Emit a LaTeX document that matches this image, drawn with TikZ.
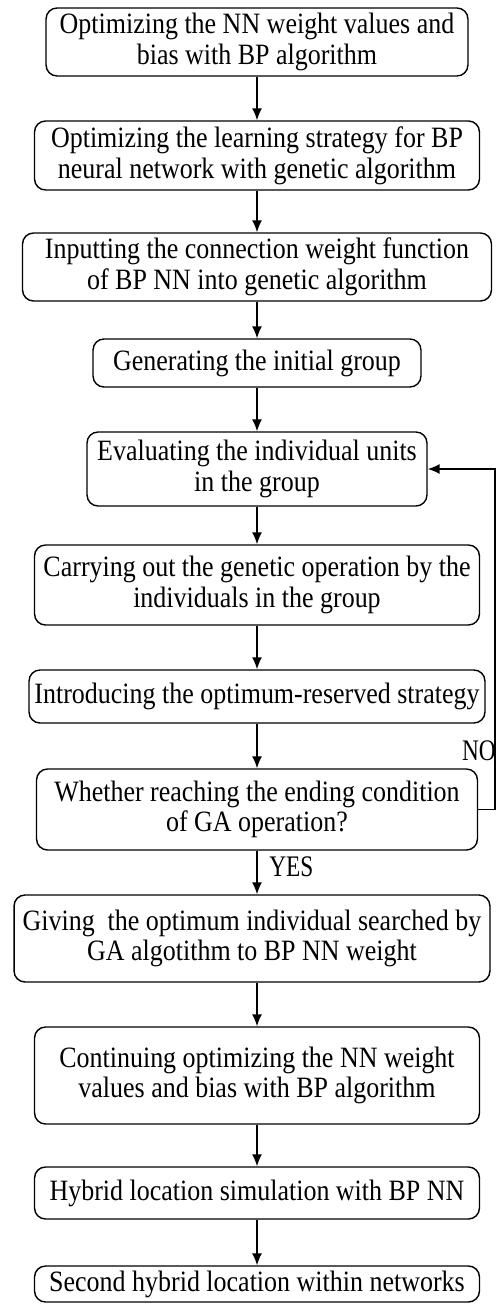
\documentclass[tikz,border=0pt]{standalone}
\usepackage{fontspec}
\setmainfont{Liberation Serif}[FakeStretch=0.88]
\newfontfamily\lblfont{Liberation Serif}[FakeStretch=0.78]
\usetikzlibrary{arrows.meta,positioning,calc}

\begin{document}
\begin{tikzpicture}[x=0.02cm, y=-0.02cm,
		box/.style={draw, rounded corners=0.22cm, line width=0.8pt, align=center, inner sep=0pt, font=\fontsize{16.8}{17.5}\selectfont},
		arr/.style={-{Latex[length=0.24cm,width=0.2cm]}, line width=0.8pt},
		lbl/.style={inner sep=0pt, font=\lblfont\fontsize{17}{17}\selectfont}]
			% Frame
			\useasboundingbox (0,0) rectangle (496,1304);
			
			% Boxes
			\node[box, minimum width=8.44cm, minimum height=1.36cm] (b1) at (257,42) {Optimizing the NN weight values and\\bias with BP algorithm};
			\node[box, minimum width=8.9cm, minimum height=1.38cm] (b2) at (257,155.5) {Optimizing the learning strategy for BP\\neural network with genetic algorithm};
			\node[box, minimum width=9.38cm, minimum height=1.36cm] (b3) at (257,267) {Inputting the connection weight function\\of BP NN into genetic algorithm};
			\node[box, minimum width=6.56cm, minimum height=0.96cm] (b4) at (257,363) {Generating the initial group};
			\node[box, minimum width=6.8cm, minimum height=1.48cm] (b5) at (257,469) {Evaluating the individual units\\in the group};
			\node[box, minimum width=8.9cm, minimum height=1.6cm] (b6) at (257,585) {Carrying out the genetic operation by the\\individuals in the group};
			\node[box, minimum width=9.12cm, minimum height=1.06cm] (b7) at (257,696.5) {Introducing the optimum-reserved strategy};
			\node[box, minimum width=8.82cm, minimum height=1.62cm] (b8) at (257,809.5) {Whether reaching the ending condition\\of GA operation?};
			\node[box, minimum width=9.52cm, minimum height=1.74cm] (b9) at (252,938.5) {Giving\ \ the optimum individual searched by\\GA algotithm to BP NN weight};
			\node[box, minimum width=8.9cm, minimum height=1.94cm] (b10) at (257,1075.5) {Continuing optimizing the NN weight\\values and bias with BP algorithm};
			\node[box, minimum width=8.9cm, minimum height=1.04cm] (b11) at (257,1193) {Hybrid location simulation with BP NN};
			\node[box, minimum width=8.9cm, minimum height=0.72cm] (b12) at (257,1284) {Second hybrid location within networks};
			
			% Arrows
			\foreach \a/\b in {b1/b2,b2/b3,b3/b4,b4/b5,b5/b6,b6/b7,b7/b8,b8/b9,b9/b10,b10/b11,b11/b12}
				\draw[arr] (\a.south -| b1.south) -- (b1.south |- \b.north);
			
			% Loop back
			\draw[arr] (b8.east) -- ++(17,0) |- (b5.east);
			
			% Labels
			\node[lbl, anchor=west] (yes) at (269,867) {YES};
			\node[lbl, anchor=east] (no) at (496,751) {NO};
		\end{tikzpicture}
\end{document}
